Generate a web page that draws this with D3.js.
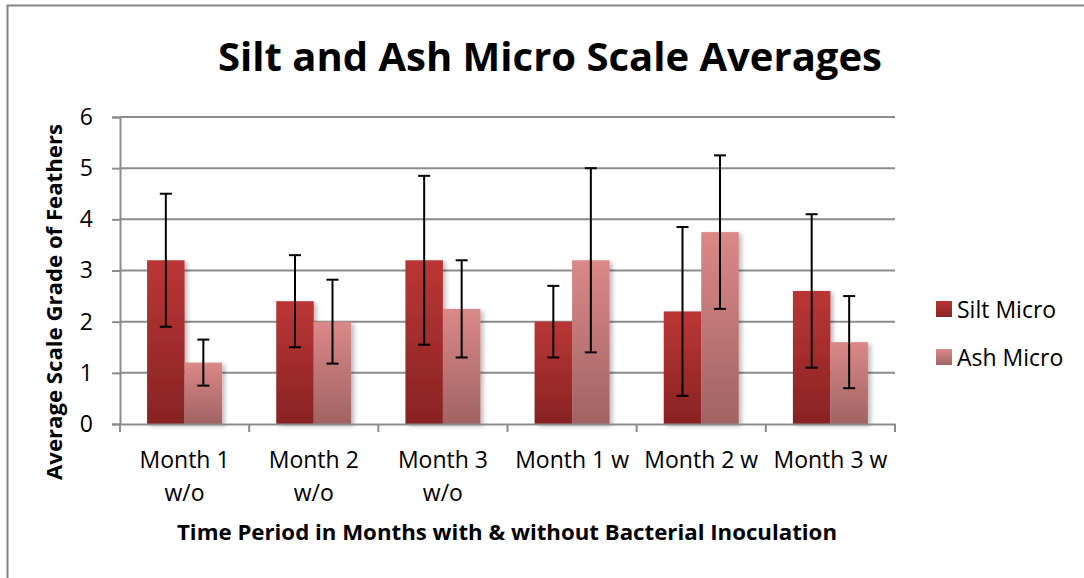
<!DOCTYPE html>
<html>
<head>
<meta charset="utf-8">
<script src="https://cdn.jsdelivr.net/npm/d3@7"></script>
<style>
  body { margin: 0; background: #fff; }
  svg { display: block; font-family: "Open Sans", "Noto Sans", sans-serif; }
</style>
</head>
<body>
<script>
// chart values
var categories = ["Month 1 w/o", "Month 2 w/o", "Month 3 w/o", "Month 1 w", "Month 2 w", "Month 3 w"];
var seriesNames = ["Silt Micro", "Ash Micro"];
var siltValues = [3.2, 2.4, 3.2, 2.0, 2.2, 2.6];
var siltErrors = [1.3, 0.9, 1.65, 0.7, 1.65, 1.5];
var ashValues = [1.2, 2.0, 2.25, 3.2, 3.75, 1.6];
var ashErrors = [0.45, 0.82, 0.95, 1.8, 1.5, 0.9];
var yTicks = [0, 1, 2, 3, 4, 5, 6];

var W = 1084, H = 578;
var margin = {top: 117, right: 189, bottom: 154, left: 120};
var w = W - margin.left - margin.right;
var h = H - margin.top - margin.bottom;

var svg = d3.select("body").append("svg")
    .attr("width", W)
    .attr("height", H);

// outer frame (only top and left edges show in the crop)
svg.append("path")
    .attr("d", "M7.5," + H + "V5.5H" + W)
    .attr("fill", "none")
    .attr("stroke", "#858585")
    .attr("stroke-width", 2);

var defs = svg.append("defs");
var grads = [["gSilt", "#bb3636", "#882323"], ["gAsh", "#db8888", "#a16363"]];
grads.forEach(function (gd) {
    var lg = defs.append("linearGradient").attr("id", gd[0])
        .attr("x1", 0).attr("y1", 0).attr("x2", 0).attr("y2", 1);
    lg.append("stop").attr("offset", "0%").attr("stop-color", gd[1]);
    lg.append("stop").attr("offset", "100%").attr("stop-color", gd[2]);
});
var f = defs.append("filter").attr("id", "shadow")
    .attr("x", "-20%").attr("y", "-10%").attr("width", "150%").attr("height", "130%");
f.append("feDropShadow").attr("dx", 3).attr("dy", 2).attr("stdDeviation", 2)
    .attr("flood-color", "#000").attr("flood-opacity", 0.25);

var g = svg.append("g")
    .attr("transform", "translate(" + margin.left + "," + margin.top + ")");

var x = d3.scaleBand().domain(categories).range([0, w]).paddingInner(0).paddingOuter(0);
var xs = d3.scaleBand().domain(seriesNames).range([0, 75]);
var y = d3.scaleLinear().domain([0, 6]).range([h, 0]);

// gridlines
g.selectAll(".grid").data(yTicks.slice(1)).enter().append("line")
    .attr("x1", 0).attr("x2", w)
    .attr("y1", function (d) { return y(d); })
    .attr("y2", function (d) { return y(d); })
    .attr("stroke", "#8c8c8c").attr("stroke-width", 2);

// bars
var series = [
    {name: seriesNames[0], values: siltValues, errors: siltErrors, fill: "url(#gSilt)"},
    {name: seriesNames[1], values: ashValues, errors: ashErrors, fill: "url(#gAsh)"}
];
var groupOffset = (x.bandwidth() - 75) / 2;

series.forEach(function (s) {
    g.selectAll(null).data(categories).enter().append("rect")
        .attr("x", function (c) { return x(c) + groupOffset + xs(s.name); })
        .attr("y", function (c, i) { return y(s.values[i]); })
        .attr("width", xs.bandwidth())
        .attr("height", function (c, i) { return h - y(s.values[i]); })
        .attr("fill", s.fill)
        .attr("filter", "url(#shadow)");
});

// axes
var leftAxis = d3.axisLeft(y).tickValues(yTicks).tickFormat(d3.format("d"))
    .tickSize(8).tickPadding(19);
var ya = g.append("g").call(leftAxis);
ya.selectAll("text").attr("font-size", "23px").attr("fill", "#000")
    .attr("font-family", "'Open Sans', sans-serif");

var bottomAxis = d3.axisBottom(x).tickValues([]).tickSizeOuter(0);
var xa = g.append("g").attr("transform", "translate(0," + h + ")").call(bottomAxis);
xa.selectAll(".tk").data(d3.range(categories.length + 1)).enter().append("line")
    .attr("class", "tk")
    .attr("x1", function (i) { return i * x.step(); })
    .attr("x2", function (i) { return i * x.step(); })
    .attr("y1", 0).attr("y2", 8);
g.selectAll(".domain, .tick line, .tk").attr("stroke", "#8c8c8c").attr("stroke-width", 2);

// category labels, wrapped like the original
var catLines = categories.map(function (c) {
    var m = c.match(/^(Month \d)( w\/o)?(.*)$/);
    return m[2] ? [m[1], "w/o"] : [c];
});
categories.forEach(function (c, i) {
    var t = g.append("text")
        .attr("x", x(c) + x.bandwidth() / 2)
        .attr("y", h + 44)
        .attr("text-anchor", "middle")
        .attr("font-size", "23px");
    catLines[i].forEach(function (line, k) {
        t.append("tspan").attr("x", x(c) + x.bandwidth() / 2)
            .attr("dy", k === 0 ? 0 : 33).text(line);
    });
});

// error bars
series.forEach(function (s) {
    var eb = g.selectAll(null).data(categories).enter().append("g");
    var cx = function (c) { return x(c) + groupOffset + xs(s.name) + xs.bandwidth() / 2; };
    eb.append("line")
        .attr("x1", cx).attr("x2", cx)
        .attr("y1", function (c, i) { return y(s.values[i] + s.errors[i]); })
        .attr("y2", function (c, i) { return y(s.values[i] - s.errors[i]); });
    eb.append("line")
        .attr("x1", function (c) { return cx(c) - 6; }).attr("x2", function (c) { return cx(c) + 6; })
        .attr("y1", function (c, i) { return y(s.values[i] + s.errors[i]); })
        .attr("y2", function (c, i) { return y(s.values[i] + s.errors[i]); });
    eb.append("line")
        .attr("x1", function (c) { return cx(c) - 6; }).attr("x2", function (c) { return cx(c) + 6; })
        .attr("y1", function (c, i) { return y(s.values[i] - s.errors[i]); })
        .attr("y2", function (c, i) { return y(s.values[i] - s.errors[i]); });
    eb.selectAll("line").attr("stroke", "#000").attr("stroke-width", 2);
});

// titles
svg.append("text")
    .attr("x", 550).attr("y", 71)
    .attr("text-anchor", "middle")
    .attr("font-size", "39px").attr("font-weight", "bold")
    .attr("textLength", 664).attr("lengthAdjust", "spacingAndGlyphs")
    .text("Silt and Ash Micro Scale Averages");

svg.append("text")
    .attr("x", 507).attr("y", 540)
    .attr("text-anchor", "middle")
    .attr("font-size", "21px").attr("font-weight", "bold")
    .attr("textLength", 660).attr("lengthAdjust", "spacingAndGlyphs")
    .text("Time Period in Months with & without Bacterial Inoculation");

svg.append("text")
    .attr("transform", "translate(62,302) rotate(-90)")
    .attr("text-anchor", "middle")
    .attr("font-size", "21px").attr("font-weight", "bold")
    .attr("textLength", 356).attr("lengthAdjust", "spacingAndGlyphs")
    .text("Average Scale Grade of Feathers");

// legend
var legend = svg.append("g").attr("transform", "translate(936,301)");
var li = legend.selectAll("g").data(series).enter().append("g")
    .attr("transform", function (d, i) { return "translate(0," + (i * 48) + ")"; });
li.append("rect").attr("width", 16).attr("height", 16).attr("fill", function (d) { return d.fill; });
li.append("text").attr("x", 21).attr("y", 17).attr("font-size", "23px")
    .text(function (d) { return d.name; });
</script>
</body>
</html>
